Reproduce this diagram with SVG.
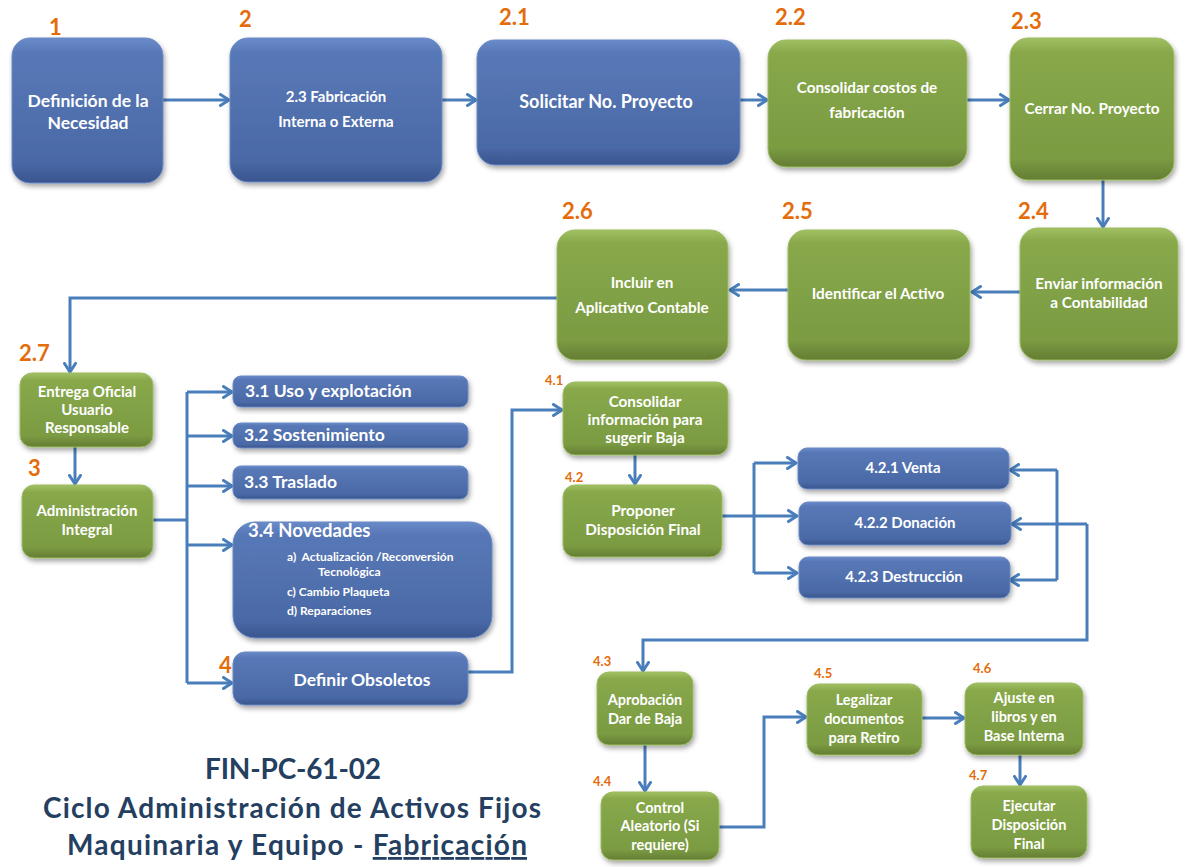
<svg xmlns="http://www.w3.org/2000/svg" width="1185" height="867" viewBox="0 0 1185 867">
  <defs>
    <linearGradient id="gBlue" x1="0" y1="0" x2="0" y2="1">
      <stop offset="0" stop-color="#6a8bc9"/>
      <stop offset="0.1" stop-color="#5878b7"/>
      <stop offset="0.85" stop-color="#4a69a6"/>
      <stop offset="1" stop-color="#39558e"/>
    </linearGradient>
    <linearGradient id="gGreen" x1="0" y1="0" x2="0" y2="1">
      <stop offset="0" stop-color="#a0c063"/>
      <stop offset="0.1" stop-color="#88a84b"/>
      <stop offset="0.85" stop-color="#7b9b42"/>
      <stop offset="1" stop-color="#647d34"/>
    </linearGradient>
    <filter id="shadow" x="-10%" y="-10%" width="125%" height="135%">
      <feDropShadow dx="1.5" dy="3" stdDeviation="2.5" flood-color="#000" flood-opacity="0.35"/>
    </filter>
    <marker id="arrow" viewBox="0 0 12 14" refX="10" refY="7" markerWidth="12" markerHeight="14" markerUnits="userSpaceOnUse" orient="auto">
      <path d="M1.5,1.5 L10,7 L1.5,12.5" fill="none" stroke="#4a7ebb" stroke-width="3" stroke-linecap="round" stroke-linejoin="round"/>
    </marker>
    <style>
      .blue { fill: url(#gBlue); stroke: #6a8ac6; stroke-width: 1; filter: url(#shadow); }
      .green { fill: url(#gGreen); stroke: #9cbc60; stroke-width: 1; filter: url(#shadow); }
      .t { font-family: Lato, "Liberation Sans", sans-serif; font-weight: bold; fill: #ffffff; text-anchor: middle; }
      .tl { font-family: Lato, "Liberation Sans", sans-serif; font-weight: bold; fill: #ffffff; }
      .num { font-family: Lato, "Liberation Sans", sans-serif; font-weight: bold; fill: #e46c0a; font-size: 22px; }
      .numS { font-family: Lato, "Liberation Sans", sans-serif; font-weight: bold; fill: #e46c0a; font-size: 13px; }
      .title { font-family: Lato, "Liberation Sans", sans-serif; font-weight: bold; fill: #243f60; font-size: 28px; text-anchor: middle; }
      .con { fill: none; stroke: #4a7ebb; stroke-width: 3; }
      .arr { marker-end: url(#arrow); }
    </style>
  </defs>

  <rect width="1185" height="867" fill="#ffffff"/>

  <!-- connectors -->
  <g id="connectors">
    <path class="con arr" d="M163,100 H229"/>
    <path class="con arr" d="M442,100 H476"/>
    <path class="con arr" d="M740,100 H767"/>
    <path class="con arr" d="M967,100 H1009"/>
    <path class="con arr" d="M1103,180 V227"/>
    <path class="con arr" d="M1020,292 H972"/>
    <path class="con arr" d="M788,290 H730"/>
    <path class="con arr" d="M557,298 H70 V372"/>
    <path class="con arr" d="M75,447 V484"/>
    <path class="con" d="M153,520 H187 M187,392 V683"/>
    <path class="con arr" d="M187,392 H232"/>
    <path class="con arr" d="M187,436 H232"/>
    <path class="con arr" d="M187,486 H232"/>
    <path class="con arr" d="M187,545 H232"/>
    <path class="con arr" d="M187,683 H232"/>
    <path class="con arr" d="M468,672 H512 V410 H562"/>
    <path class="con arr" d="M635,455 V484"/>
    <path class="con arr" d="M722,516 H797"/>
    <path class="con" d="M754,463 V573"/>
    <path class="con arr" d="M754,463 H796"/>
    <path class="con arr" d="M754,573 H797"/>
    <path class="con" d="M1057,470 V580"/>
    <path class="con arr" d="M1057,470 H1010"/>
    <path class="con arr" d="M1057,580 H1010"/>
    <path class="con arr" d="M1087,524 H1012"/>
    <path class="con arr" d="M1087,524 V640 H643 V671"/>
    <path class="con arr" d="M645,745 V791"/>
    <path class="con arr" d="M719,827 H764 V717 H806"/>
    <path class="con arr" d="M922,718 H964"/>
    <path class="con arr" d="M1020,755 V785"/>
  </g>

  <!-- step numbers -->
  <g id="step-numbers">
    <text class="num" x="49" y="35">1</text>
    <text class="num" x="239" y="27">2</text>
    <text class="num" x="499" y="25">2.1</text>
    <text class="num" x="775" y="25">2.2</text>
    <text class="num" x="1011" y="29">2.3</text>
    <text class="num" x="562" y="219">2.6</text>
    <text class="num" x="782" y="219">2.5</text>
    <text class="num" x="1018" y="219">2.4</text>
    <text class="num" x="19" y="361">2.7</text>
    <text class="num" x="28" y="476">3</text>
    <text class="num" x="219" y="673">4</text>
    <text class="numS" x="545" y="385">4.1</text>
    <text class="numS" x="565" y="482">4.2</text>
    <text class="numS" x="593" y="666">4.3</text>
    <text class="numS" x="593" y="786">4.4</text>
    <text class="numS" x="814" y="678">4.5</text>
    <text class="numS" x="973" y="673">4.6</text>
    <text class="numS" x="969" y="780">4.7</text>
  </g>

  <!-- row 1 -->
  <g id="n1">
    <rect class="blue" x="12" y="38" width="151" height="145" rx="18"/>
    <text class="t" x="88" y="107" font-size="17.5">Definición de la</text>
    <text class="t" x="88" y="129" font-size="17.5">Necesidad</text>
  </g>
  <g id="n2">
    <rect class="blue" x="230" y="38" width="212" height="144" rx="18"/>
    <text class="t" x="336" y="102" font-size="15">2.3 Fabricación</text>
    <text class="t" x="336" y="127" font-size="15">Interna o Externa</text>
  </g>
  <g id="n2_1">
    <rect class="blue" x="477" y="40" width="263" height="125" rx="18"/>
    <text class="t" x="606" y="108" font-size="18">Solicitar No. Proyecto</text>
  </g>
  <g id="n2_2">
    <rect class="green" x="768" y="40" width="199" height="127" rx="18"/>
    <text class="t" x="867" y="93" font-size="15.3">Consolidar costos de</text>
    <text class="t" x="867" y="118" font-size="15.3">fabricación</text>
  </g>
  <g id="n2_3">
    <rect class="green" x="1010" y="38" width="164" height="142" rx="18"/>
    <text class="t" x="1092" y="114" font-size="15.3">Cerrar No. Proyecto</text>
  </g>

  <!-- row 2 -->
  <g id="n2_4">
    <rect class="green" x="1020" y="228" width="158" height="132" rx="18"/>
    <text class="t" x="1099" y="289" font-size="15.3">Enviar información</text>
    <text class="t" x="1099" y="308" font-size="15.3">a Contabilidad</text>
  </g>
  <g id="n2_5">
    <rect class="green" x="788" y="230" width="182" height="130" rx="18"/>
    <text class="t" x="878" y="299" font-size="15.3">Identificar el Activo</text>
  </g>
  <g id="n2_6">
    <rect class="green" x="557" y="230" width="171" height="130" rx="18"/>
    <text class="t" x="642" y="288" font-size="15.3">Incluir en</text>
    <text class="t" x="642" y="313" font-size="15.3">Aplicativo Contable</text>
  </g>

  <!-- usage branch -->
  <g id="n2_7">
    <rect class="green" x="20" y="373" width="133" height="74" rx="12"/>
    <text class="t" x="87" y="397" font-size="15">Entrega Oficial</text>
    <text class="t" x="87" y="415" font-size="15">Usuario</text>
    <text class="t" x="87" y="433" font-size="15">Responsable</text>
  </g>
  <g id="n3">
    <rect class="green" x="22" y="485" width="131" height="73" rx="12"/>
    <text class="t" x="87" y="516" font-size="15">Administración</text>
    <text class="t" x="87" y="535" font-size="15">Integral</text>
  </g>
  <g id="n3_1">
    <rect class="blue" x="233" y="376" width="235" height="31" rx="8"/>
    <text class="tl" x="245" y="397" font-size="17.5">3.1 Uso y explotación</text>
  </g>
  <g id="n3_2">
    <rect class="blue" x="233" y="423" width="235" height="25" rx="8"/>
    <text class="tl" x="244" y="441" font-size="17.5">3.2 Sostenimiento</text>
  </g>
  <g id="n3_3">
    <rect class="blue" x="233" y="466" width="235" height="33" rx="8"/>
    <text class="tl" x="244" y="488" font-size="17.5">3.3 Traslado</text>
  </g>
  <g id="n3_4">
    <rect class="blue" x="233" y="522" width="259" height="116" rx="22"/>
    <text class="tl" x="248" y="537" font-size="18.5">3.4 Novedades</text>
    <text class="tl" x="287" y="561" font-size="12" xml:space="preserve">a)  Actualización /Reconversión</text>
    <text class="tl" x="318" y="576" font-size="12">Tecnológica</text>
    <text class="tl" x="287" y="596" font-size="12">c) Cambio Plaqueta</text>
    <text class="tl" x="287" y="615" font-size="12">d) Reparaciones</text>
  </g>
  <g id="n4">
    <rect class="blue" x="233" y="652" width="235" height="53" rx="12"/>
    <text class="t" x="362" y="686" font-size="17.5">Definir Obsoletos</text>
  </g>

  <!-- disposal branch -->
  <g id="n4_1">
    <rect class="green" x="563" y="382" width="165" height="73" rx="12"/>
    <text class="t" x="645" y="407" font-size="15.3">Consolidar</text>
    <text class="t" x="645" y="425" font-size="15.3">información para</text>
    <text class="t" x="645" y="443" font-size="15.3">sugerir Baja</text>
  </g>
  <g id="n4_2">
    <rect class="green" x="563" y="485" width="159" height="72" rx="12"/>
    <text class="t" x="643" y="516" font-size="15.3">Proponer</text>
    <text class="t" x="643" y="535" font-size="15.3">Disposición Final</text>
  </g>
  <g id="n4_2_1">
    <rect class="blue" x="798" y="448" width="211" height="41" rx="9"/>
    <text class="t" x="903" y="473" font-size="15">4.2.1 Venta</text>
  </g>
  <g id="n4_2_2">
    <rect class="blue" x="799" y="502" width="212" height="43" rx="9"/>
    <text class="t" x="905" y="528" font-size="15">4.2.2 Donación</text>
  </g>
  <g id="n4_2_3">
    <rect class="blue" x="799" y="557" width="211" height="41" rx="9"/>
    <text class="t" x="904" y="582" font-size="15">4.2.3 Destrucción</text>
  </g>
  <g id="n4_3">
    <rect class="green" x="597" y="672" width="96" height="73" rx="12"/>
    <text class="t" x="645" y="705" font-size="14.5">Aprobación</text>
    <text class="t" x="645" y="724" font-size="14.5">Dar de Baja</text>
  </g>
  <g id="n4_4">
    <rect class="green" x="601" y="792" width="118" height="68" rx="12"/>
    <text class="t" x="660" y="813" font-size="14.5">Control</text>
    <text class="t" x="660" y="831" font-size="14.5">Aleatorio (Si</text>
    <text class="t" x="660" y="850" font-size="14.5">requiere)</text>
  </g>
  <g id="n4_5">
    <rect class="green" x="807" y="684" width="115" height="71" rx="12"/>
    <text class="t" x="864" y="705" font-size="14.5">Legalizar</text>
    <text class="t" x="864" y="724" font-size="14.5">documentos</text>
    <text class="t" x="864" y="743" font-size="14.5">para Retiro</text>
  </g>
  <g id="n4_6">
    <rect class="green" x="965" y="683" width="118" height="72" rx="12"/>
    <text class="t" x="1024" y="703" font-size="14.5">Ajuste en</text>
    <text class="t" x="1024" y="722" font-size="14.5">libros y en</text>
    <text class="t" x="1024" y="741" font-size="14.5">Base Interna</text>
  </g>
  <g id="n4_7">
    <rect class="green" x="971" y="786" width="116" height="72" rx="12"/>
    <text class="t" x="1029" y="811" font-size="14.5">Ejecutar</text>
    <text class="t" x="1029" y="830" font-size="14.5">Disposición</text>
    <text class="t" x="1029" y="849" font-size="14.5">Final</text>
  </g>

  <!-- title block -->
  <g id="title">
    <text class="title" x="293" y="779" textLength="176" lengthAdjust="spacing">FIN-PC-61-02</text>
    <text class="title" x="292" y="818" textLength="498" lengthAdjust="spacing">Ciclo Administración de Activos Fijos</text>
    <text class="title" x="297" y="855" textLength="460" lengthAdjust="spacing">Maquinaria y Equipo - <tspan text-decoration="underline">Fabricación</tspan></text>
  </g>
</svg>
